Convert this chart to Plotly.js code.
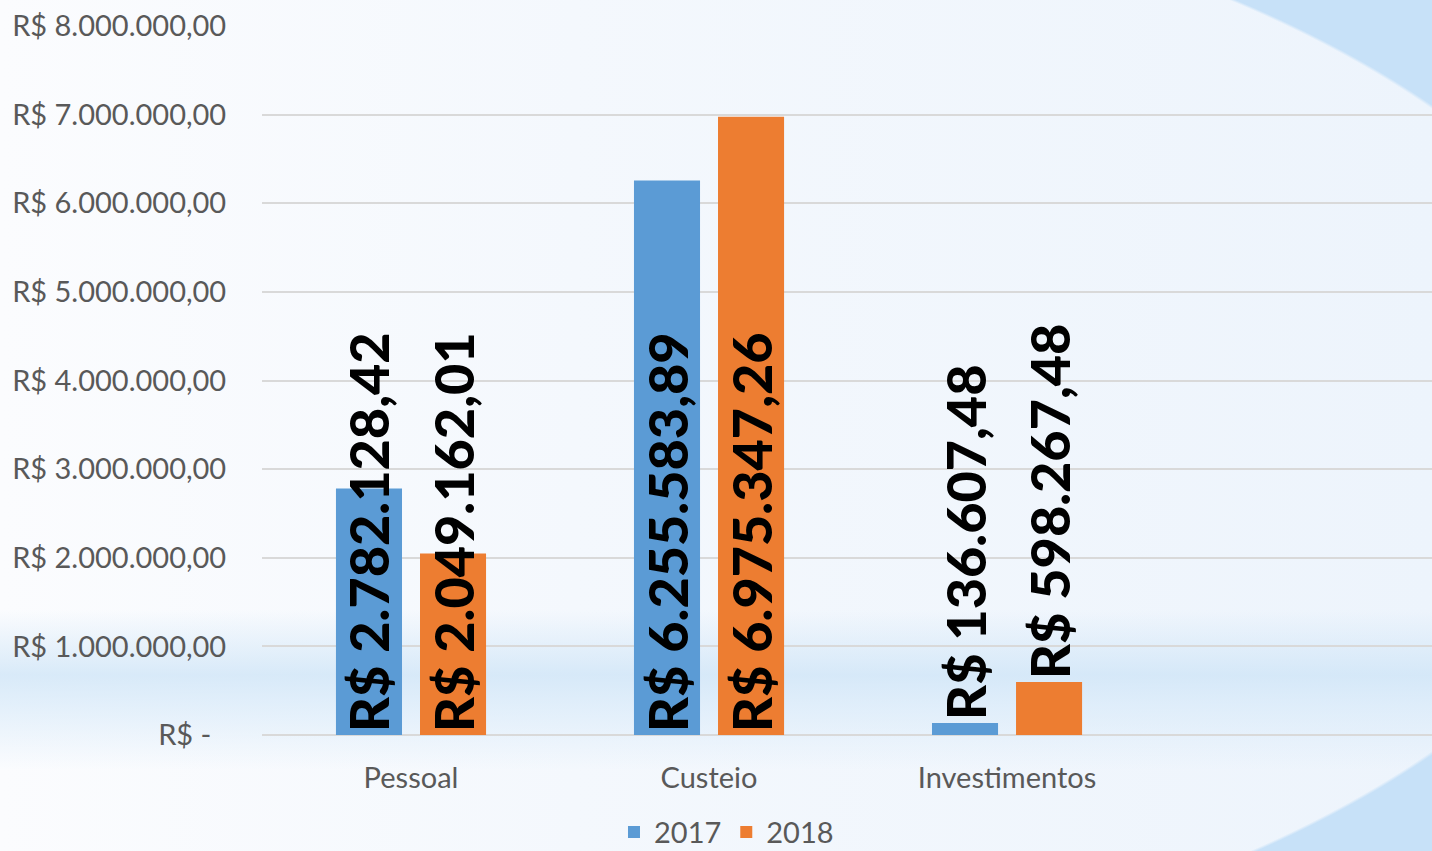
<!DOCTYPE html>
<html>
<head>
<meta charset="utf-8">
<script src="https://cdn.plot.ly/plotly-3.0.1.min.js"></script>
<style>
  html, body { margin: 0; padding: 0; width: 1432px; height: 851px; overflow: hidden; }
  body {
    background:
      radial-gradient(1246px 580px at 400px 430px, rgba(0,0,0,0) 99.6%, #c7e1f8 100%),
      linear-gradient(to bottom,
        rgba(255,255,255,0) 0px,
        rgba(255,255,255,0) 610px,
        rgba(205,228,247,0.75) 675px,
        rgba(214,233,249,0.65) 705px,
        rgba(255,255,255,0) 770px),
      linear-gradient(to right, #fbfcfe 0%, #f4f8fd 40%, #edf4fc 100%);
  }
  #chart { width: 1432px; height: 851px; }
</style>
</head>
<body>
<div id="chart"></div>
<script>
// ---- data ----
const categories = ["Pessoal", "Custeio", "Investimentos"];
const values2017 = [2782128.42, 6255583.89, 136607.48];
const values2018 = [2049162.01, 6975347.26, 598267.48];
const labels2017 = ["R$ 2.782.128,42", "R$ 6.255.583,89", "R$ 136.607,48"];
const labels2018 = ["R$ 2.049.162,01", "R$ 6.975.347,26", "R$ 598.267,48"];
const yTickValues = [0, 1000000, 2000000, 3000000, 4000000, 5000000, 6000000, 7000000, 8000000];
const yTickLabels = ["R$ -\u00a0\u00a0", "R$ 1.000.000,00", "R$ 2.000.000,00", "R$ 3.000.000,00",
  "R$ 4.000.000,00", "R$ 5.000.000,00", "R$ 6.000.000,00", "R$ 7.000.000,00", "R$ 8.000.000,00"];
const seriesNames = ["2017", "2018"];

// label placement: inside at base when bar is tall, above bar when short
function positions(vals) { return vals.map(v => v > 1000000 ? "inside" : "outside"); }

const labelFont = { family: "Lato, 'Open Sans', sans-serif", size: 54, color: "#000000", weight: 900 };

const traces = [
  {
    type: "bar", name: seriesNames[0], x: categories, y: values2017,
    marker: { color: "#5b9bd5" },
    text: labels2017, textposition: positions(values2017), insidetextanchor: "start",
    textangle: -90, constraintext: "none", cliponaxis: false,
    textfont: labelFont, insidetextfont: labelFont, outsidetextfont: labelFont,
    hoverinfo: "x+y"
  },
  {
    type: "bar", name: seriesNames[1], x: categories, y: values2018,
    marker: { color: "#ed7d31" },
    text: labels2018, textposition: positions(values2018), insidetextanchor: "start",
    textangle: -90, constraintext: "none", cliponaxis: false,
    textfont: labelFont, insidetextfont: labelFont, outsidetextfont: labelFont,
    hoverinfo: "x+y"
  }
];

const tickFont = { family: "Lato, 'Open Sans', sans-serif", size: 29, color: "#595959" };

const layout = {
  width: 1432, height: 851,
  paper_bgcolor: "rgba(0,0,0,0)", plot_bgcolor: "rgba(0,0,0,0)",
  margin: { l: 262, r: 0, t: 26, b: 116, pad: 0, autoexpand: false },
  barmode: "group", bargap: 0.436, bargroupgap: 0.214,
  showlegend: true,
  legend: {
    orientation: "h", x: 0.397, xanchor: "center", y: -0.137, yanchor: "middle",
    font: tickFont, bgcolor: "rgba(0,0,0,0)", itemclick: false
  },
  xaxis: {
    type: "category", range: [-0.5, 3.426], fixedrange: true, automargin: false,
    showgrid: false, zeroline: false, showline: false,
    ticks: "outside", ticklen: 17, tickcolor: "rgba(0,0,0,0)",
    tickfont: tickFont
  },
  yaxis: {
    range: [0, 8000000], fixedrange: true, automargin: false,
    tickmode: "array", tickvals: yTickValues, ticktext: yTickLabels,
    showgrid: true, gridcolor: "#d9d9d9", gridwidth: 2,
    zeroline: true, zerolinecolor: "#d9d9d9", zerolinewidth: 2,
    showline: false,
    ticks: "outside", ticklen: 29, tickcolor: "rgba(0,0,0,0)",
    tickfont: tickFont
  }
};

Plotly.newPlot("chart", traces, layout, { displayModeBar: false, staticPlot: true });
</script>
</body>
</html>
